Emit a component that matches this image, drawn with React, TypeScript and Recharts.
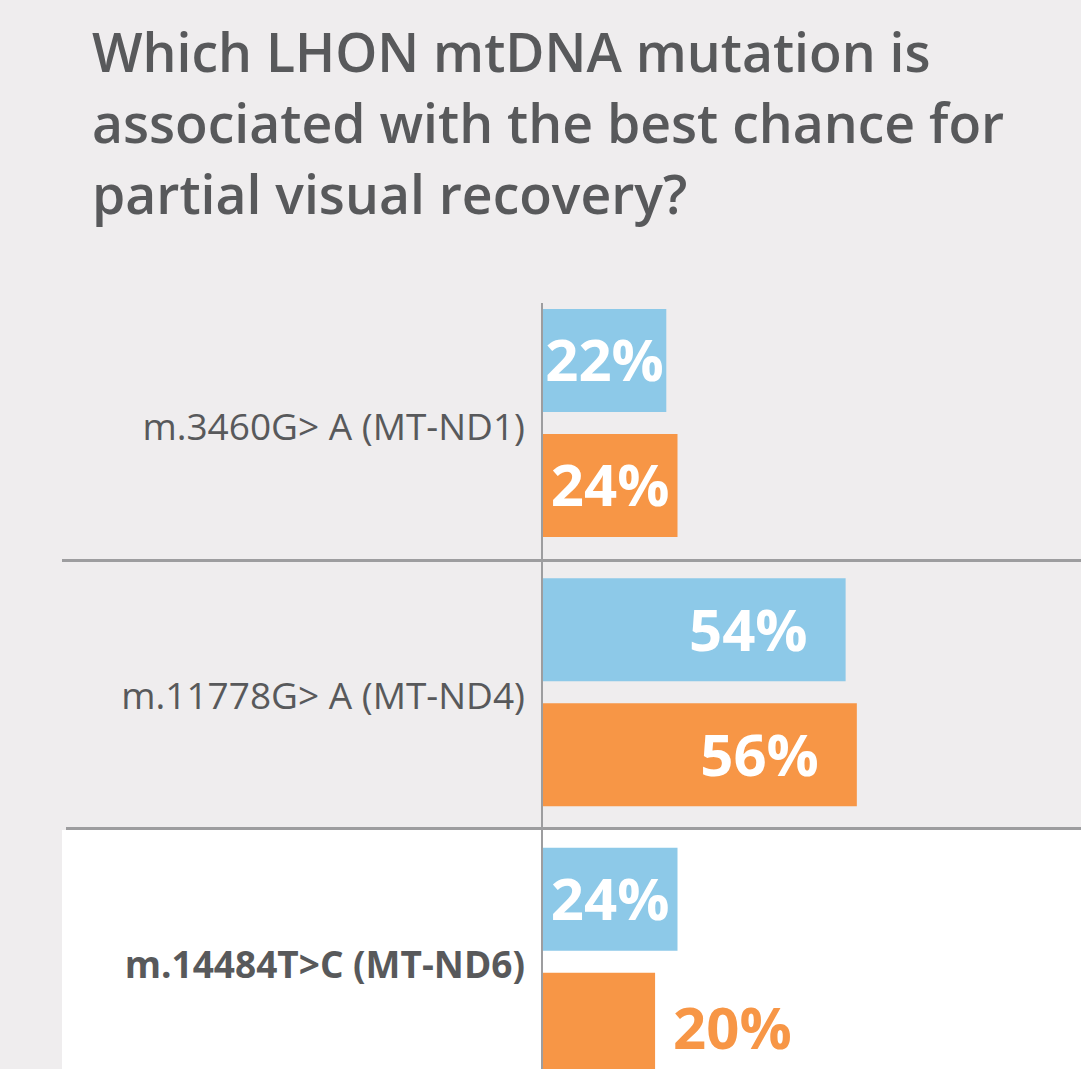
import { BarChart, Bar, XAxis, YAxis, LabelList } from 'recharts';

const mutations = ['m.3460G> A (MT-ND1)', 'm.11778G> A (MT-ND4)', 'm.14484T>C (MT-ND6)'];
const blueValues = [22, 54, 24];
const orangeValues = [24, 56, 20];
const highlighted = 'm.14484T>C (MT-ND6)';

const titleLines = ['Which LHON mtDNA mutation is', 'associated with the best chance for', 'partial visual recovery?'];

const BLUE = '#8dc9e8';
const ORANGE = '#f79646';
const TEXT = '#58595b';
const RULE = '#9d9d9f';
const FONT = '"Open Sans", "Noto Sans", sans-serif';

const data = mutations.map((name, i) => ({
  name,
  blue: blueValues[i],
  orange: orangeValues[i],
}));

const LABEL_SIZE = 58;

const makeLabel = (color: string) => (props: any) => {
  const { x, y, width, height, value } = props;
  const text = `${value}%`;
  const textW = text.length * LABEL_SIZE * 0.68;
  const cy = y + height / 2 + LABEL_SIZE * 0.36;
  // too short to hold the number -> put it after the bar, in the bar colour
  if (width < textW) {
    return (
      <text x={x + width + 18} y={cy + 4} fill={color} fontSize={LABEL_SIZE} fontWeight={700} fontFamily={FONT}>
        {text}
      </text>
    );
  }
  const pad = Math.min(38, (width - textW) / 2);
  return (
    <text x={x + width - pad} y={cy} textAnchor="end" fill="#fff" fontSize={LABEL_SIZE} fontWeight={700} fontFamily={FONT}>
      {text}
    </text>
  );
};

const CategoryTick = (props: any) => {
  const { x, y, payload } = props;
  const bold = payload.value === highlighted;
  return (
    <text
      x={x}
      y={y}
      dy={17}
      textAnchor="end"
      fill={TEXT}
      fontSize={37}
      fontWeight={bold ? 700 : 400}
      fontFamily={FONT}
    >
      {payload.value}
    </text>
  );
};

export default function App() {
  return (
    <div
      style={{
        position: 'absolute',
        left: 0,
        top: 0,
        width: 1081,
        height: 1069,
        overflow: 'hidden',
        background: '#efedee',
        fontFamily: FONT,
      }}
    >
      {/* white panel behind the last row */}
      <div style={{ position: 'absolute', left: 62, top: 830, width: 1019, height: 260, background: '#fff' }} />
      {/* row separators */}
      <div style={{ position: 'absolute', left: 62, top: 559, width: 1019, height: 3, background: RULE }} />
      <div style={{ position: 'absolute', left: 66, top: 827, width: 1015, height: 3, background: RULE }} />

      <div style={{ position: 'absolute', left: 92, top: 16, color: TEXT, fontSize: 53.5, fontWeight: 600, lineHeight: '71px' }}>
        {titleLines.map((line) => (
          <div key={line} style={{ whiteSpace: 'nowrap' }}>{line}</div>
        ))}
      </div>

      <div style={{ position: 'absolute', left: 0, top: 0 }}>
        <BarChart
          width={1081}
          height={1100}
          data={data}
          layout="vertical"
          margin={{ top: 288, right: 0, bottom: 4, left: 0 }}
          barSize={103}
          barGap={22}
        >
          <XAxis type="number" domain={[0, 96]} hide />
          <YAxis
            type="category"
            dataKey="name"
            width={543}
            axisLine={false}
            tickLine={false}
            tickSize={6}
            tickMargin={12}
            tick={<CategoryTick />}
          />
          <Bar dataKey="blue" fill={BLUE} isAnimationActive={false}>
            <LabelList dataKey="blue" content={makeLabel(BLUE)} />
          </Bar>
          <Bar dataKey="orange" fill={ORANGE} isAnimationActive={false}>
            <LabelList dataKey="orange" content={makeLabel(ORANGE)} />
          </Bar>
        </BarChart>
      </div>

      {/* value axis line */}
      <div style={{ position: 'absolute', left: 541, top: 303, width: 2, height: 800, background: RULE }} />
    </div>
  );
}
